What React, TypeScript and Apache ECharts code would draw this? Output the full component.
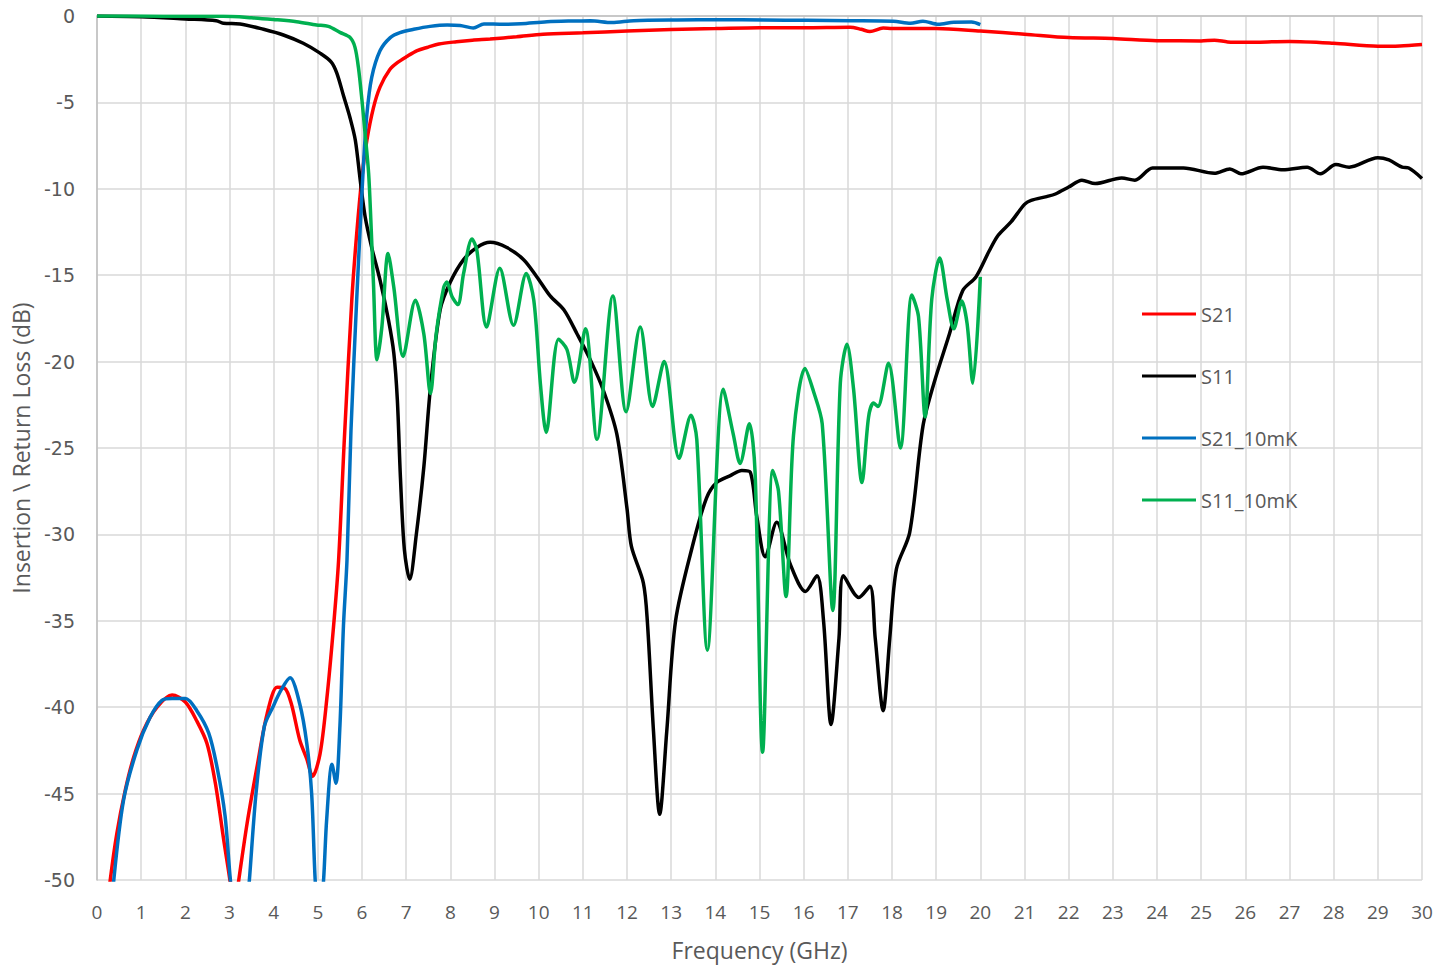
import React, { useEffect, useRef } from "react";
import * as echarts from "echarts";

// ---- Data (frequency in GHz, value in dB) ----
const s21Freq = [0.22, 0.3, 0.45, 0.64, 0.83, 1.06, 1.36, 1.7, 2.0, 2.26, 2.49, 2.68, 2.87, 3.02, 3.1, 3.21, 3.4, 3.62, 3.85, 4.08, 4.25, 4.4, 4.59, 4.75, 4.88, 5.05, 5.2, 5.35, 5.47, 5.6, 5.77, 5.88, 6.0, 6.11, 6.26, 6.41, 6.63, 6.8, 7.01, 7.25, 7.5, 7.74, 8.14, 8.5, 8.9, 9.5, 10.1, 11.0, 12.0, 13.0, 14.0, 15.0, 16.0, 17.05, 17.3, 17.5, 17.8, 18.0, 19.0, 20.0, 21.0, 22.0, 23.0, 24.0, 25.0, 25.3, 25.6, 26.0, 27.0, 28.0, 29.0, 29.5, 30.0];
const s21Loss = [-52, -50, -47.3, -44.8, -42.9, -41.3, -40.0, -39.3, -39.7, -40.8, -42.1, -44.4, -47.7, -50.2, -52, -50, -46.7, -43.5, -40.4, -38.85, -38.9, -39.8, -41.9, -43.0, -44.0, -42.7, -39.6, -35.5, -31.5, -24.5, -16.4, -12.6, -9.3, -7.2, -5.3, -4.1, -3.1, -2.7, -2.35, -2.0, -1.8, -1.62, -1.49, -1.4, -1.33, -1.2, -1.05, -0.97, -0.87, -0.78, -0.73, -0.68, -0.68, -0.65, -0.77, -0.9, -0.7, -0.72, -0.72, -0.87, -1.05, -1.25, -1.3, -1.43, -1.44, -1.4, -1.5, -1.52, -1.48, -1.58, -1.75, -1.73, -1.65];

const s11Freq = [0, 1, 2, 2.7, 2.86, 3.24, 3.77, 4.22, 4.67, 5.05, 5.3, 5.43, 5.58, 5.73, 5.85, 5.96, 6.07, 6.22, 6.41, 6.6, 6.72, 6.8, 6.87, 6.96, 7.08, 7.23, 7.4, 7.55, 7.77, 8.0, 8.3, 8.6, 8.9, 9.28, 9.66, 9.96, 10.26, 10.57, 10.87, 11.17, 11.47, 11.77, 12.0, 12.1, 12.37, 12.46, 12.6, 12.74, 12.9, 13.1, 13.5, 13.8, 14.03, 14.34, 14.6, 14.79, 14.94, 15.13, 15.39, 15.7, 16.04, 16.3, 16.45, 16.62, 16.8, 16.9, 17.25, 17.5, 17.62, 17.8, 17.95, 18.1, 18.4, 18.7, 18.95, 19.3, 19.6, 19.9, 20.2, 20.4, 20.7, 21.0, 21.15, 21.5, 21.7, 22.0, 22.3, 22.6, 23.2, 23.5, 23.9, 24.6, 25.3, 25.65, 25.9, 26.4, 26.85, 27.4, 27.7, 28.05, 28.35, 29.0, 29.25, 29.55, 29.7, 30.0];
const s11Loss = [0, -0.04, -0.17, -0.27, -0.42, -0.46, -0.77, -1.1, -1.58, -2.15, -2.65, -3.3, -4.6, -5.9, -7.2, -9.5, -11.6, -13.4, -15.3, -17.6, -19.5, -22.2, -26.7, -30.9, -32.6, -30.0, -26.1, -21.5, -17.0, -15.4, -14.1, -13.4, -13.1, -13.4, -14.1, -15.1, -16.2, -17.0, -18.4, -19.9, -21.7, -24.2, -28.5, -30.7, -32.8, -35, -41.4, -46.2, -41.4, -35, -30.5, -27.9, -27.0, -26.6, -26.3, -26.4, -29.0, -31.3, -29.3, -31.75, -33.3, -32.4, -35, -41.0, -36, -32.4, -33.65, -33.0, -36, -40.2, -36, -32.0, -29.9, -23.75, -21.25, -18.4, -15.9, -15.1, -13.6, -12.7, -11.9, -10.9, -10.67, -10.45, -10.3, -9.9, -9.5, -9.7, -9.37, -9.5, -8.8, -8.8, -9.1, -8.85, -9.13, -8.75, -8.9, -8.75, -9.13, -8.6, -8.75, -8.2, -8.33, -8.75, -8.8, -9.4];

const s21ColdFreq = [0.3, 0.38, 0.6, 0.9, 1.2, 1.47, 1.7, 2.0, 2.26, 2.53, 2.72, 2.9, 3.02, 3.2, 3.35, 3.45, 3.6, 3.79, 3.98, 4.17, 4.37, 4.59, 4.75, 4.86, 4.94, 5.03, 5.13, 5.2, 5.32, 5.41, 5.5, 5.58, 5.66, 5.75, 5.88, 5.96, 6.03, 6.11, 6.22, 6.41, 6.64, 6.86, 7.17, 7.54, 7.93, 8.22, 8.52, 8.76, 9.2, 9.6, 10.19, 10.77, 11.17, 11.66, 12.15, 13.13, 14.1, 15.1, 16.07, 17.05, 18.03, 18.42, 18.7, 19.05, 19.4, 19.8, 20.0];
const s21ColdLoss = [-53, -50, -45.4, -42.5, -40.6, -39.6, -39.5, -39.5, -40.2, -41.5, -43.5, -46.3, -50, -54, -53, -50, -45, -41.1, -40.0, -39.0, -38.3, -39.8, -42.1, -45, -50, -53, -50, -46.5, -43.3, -44.4, -41.1, -35.3, -31.5, -24, -16.4, -12.2, -8.75, -5.7, -3.55, -2.0, -1.25, -0.96, -0.77, -0.6, -0.52, -0.55, -0.69, -0.46, -0.48, -0.45, -0.33, -0.29, -0.28, -0.38, -0.27, -0.23, -0.22, -0.23, -0.25, -0.27, -0.3, -0.42, -0.3, -0.48, -0.36, -0.35, -0.5];

const s11ColdFreq = [0, 1, 2, 2.86, 3.5, 3.99, 4.52, 4.97, 5.24, 5.5, 5.73, 5.84, 5.92, 6.0, 6.07, 6.15, 6.2, 6.26, 6.34, 6.45, 6.59, 6.72, 6.93, 7.21, 7.4, 7.55, 7.68, 7.85, 7.92, 8.04, 8.17, 8.3, 8.49, 8.6, 8.82, 9.12, 9.43, 9.72, 9.89, 10.04, 10.17, 10.45, 10.64, 10.81, 11.06, 11.32, 11.68, 11.98, 12.3, 12.58, 12.84, 13.18, 13.45, 13.58, 13.82, 14.18, 14.41, 14.56, 14.77, 14.9, 15.07, 15.3, 15.43, 15.6, 15.77, 16.03, 16.22, 16.42, 16.66, 16.83, 16.98, 17.13, 17.32, 17.47, 17.58, 17.68, 17.92, 18.19, 18.45, 18.6, 18.75, 18.9, 19.08, 19.25, 19.4, 19.58, 19.7, 19.83, 20.0];
const s11ColdLoss = [0, 0, -0.02, -0.02, -0.1, -0.2, -0.33, -0.52, -0.6, -0.95, -1.25, -1.8, -3.0, -4.9, -6.8, -9.1, -11.8, -15.5, -19.9, -18.0, -13.75, -15.7, -19.7, -16.45, -18.4, -21.85, -18.4, -15.7, -15.4, -16.25, -16.7, -14.9, -12.9, -13.55, -18.0, -14.6, -17.9, -14.9, -16.45, -21.3, -24.1, -18.7, -19.3, -21.2, -18.1, -24.5, -16.2, -22.9, -18.0, -22.6, -20.0, -25.6, -23.1, -24.5, -36.7, -21.6, -24.25, -25.9, -23.6, -26.4, -42.6, -26.3, -27.5, -33.6, -24.25, -20.4, -21.7, -23.6, -34.4, -21.25, -19.0, -21.6, -27.0, -23.2, -22.4, -22.6, -20.1, -25.0, -16.15, -17.4, -23.2, -16.4, -14.0, -16.4, -18.1, -16.5, -17.8, -21.25, -15.1];

const seriesNames = ["S21", "S11", "S21_10mK", "S11_10mK"];
const seriesColors = ["#FF0000", "#000000", "#0070C0", "#00B050"];

const zip = (xs: number[], ys: number[]) => xs.map((x, i) => [x, ys[i]]);

export default function App() {
  const ref = useRef<HTMLDivElement>(null);
  useEffect(() => {
    if (!ref.current) return;
    const chart = echarts.init(ref.current, undefined, { renderer: "svg" });
    const datasets = [
      zip(s21Freq, s21Loss),
      zip(s11Freq, s11Loss),
      zip(s21ColdFreq, s21ColdLoss),
      zip(s11ColdFreq, s11ColdLoss),
    ];
    chart.setOption({
      animation: false,
      backgroundColor: "#ffffff",
      grid: { left: 97, right: 29, top: 16, bottom: 86, containLabel: false },
      legend: {
        orient: "vertical",
        left: 1142,
        top: 302,
        padding: 0,
        itemWidth: 54,
        itemHeight: 3,
        itemGap: 38,
        icon: "rect",
        data: seriesNames,
        textStyle: { fontFamily: "Open Sans", fontSize: 20, color: "#595959", lineHeight: 24 },
      },
      xAxis: {
        type: "value",
        min: 0,
        max: 30,
        interval: 1,
        name: "Frequency (GHz)",
        nameLocation: "middle",
        nameGap: 58,
        nameTextStyle: { fontFamily: "Open Sans", fontSize: 23, color: "#595959" },
        axisLine: { show: true, lineStyle: { color: "#bfbfbf", width: 1.5 } },
        axisTick: { show: false },
        axisLabel: { margin: 22, fontFamily: "Open Sans", fontSize: 19, color: "#595959" },
        splitLine: { show: true, lineStyle: { color: "#d9d9d9", width: 1.5 } },
      },
      yAxis: {
        type: "value",
        min: -50,
        max: 0,
        interval: 5,
        name: "Insertion \\ Return Loss (dB)",
        nameLocation: "middle",
        nameGap: 65,
        nameTextStyle: { fontFamily: "Open Sans", fontSize: 23, color: "#595959" },
        axisLine: { show: true, lineStyle: { color: "#bfbfbf", width: 1.5 } },
        axisTick: { show: false },
        axisLabel: { margin: 22, fontFamily: "DejaVu Sans", fontSize: 19, color: "#595959" },
        splitLine: { show: true, lineStyle: { color: "#d9d9d9", width: 1.5 } },
      },
      series: seriesNames.map((name, i) => ({
        name,
        type: "line",
        data: datasets[i],
        showSymbol: false,
        symbol: "none",
        smooth: 0.3,
        clip: true,
        lineStyle: { color: seriesColors[i], width: 3.5 },
        itemStyle: { color: seriesColors[i] },
        z: 2 + i,
      })),
    });
    return () => chart.dispose();
  }, []);
  return <div ref={ref} style={{ position: "fixed", left: 0, top: 0, width: 1451, height: 966 }} />;
}
